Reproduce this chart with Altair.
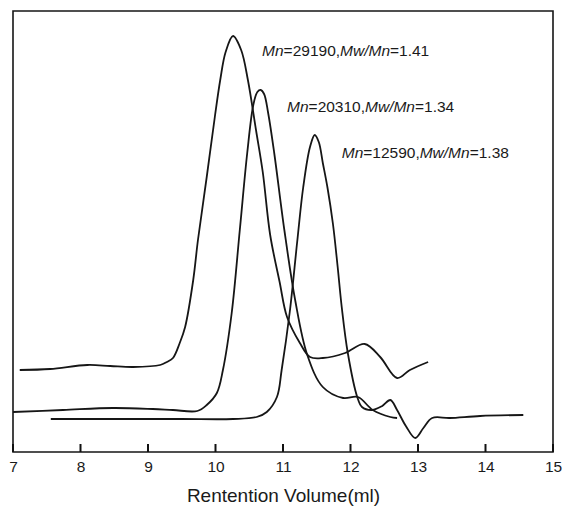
import altair as alt
import pandas as pd

# ---- data (retention volume in ml, detector signal in arbitrary units) ----
a_vol = [7.10, 7.55, 8.10, 8.44, 8.78, 9.18, 9.28, 9.37, 9.47, 9.55, 9.67, 9.74, 9.87, 9.99,
         10.07, 10.15, 10.26, 10.38, 10.48, 10.60, 10.70, 10.81, 10.95, 11.06, 11.25, 11.40,
         11.59, 11.92, 12.21, 12.44, 12.69, 12.88, 13.15]
a_sig = [82, 83, 87, 86, 85, 87, 90, 94, 109, 125, 172, 212, 275, 335,
         372, 400, 416, 402, 372, 322, 280, 217, 170, 135, 109, 95,
         94, 99, 108, 95, 74, 82, 90]

b_vol = [7.00, 7.74, 8.48, 9.07, 9.37, 9.73, 9.87, 10.02, 10.11, 10.24, 10.36, 10.47, 10.56,
         10.62, 10.67, 10.72, 10.78, 10.87, 11.02, 11.18, 11.36, 11.59, 11.89, 12.11, 12.33,
         12.59, 12.69]
b_sig = [40, 42, 44, 43, 42, 41, 47, 59, 82, 139, 222, 299, 347,
         360, 362, 358, 339, 299, 222, 152, 97, 65, 54, 55, 42,
         35, 34]

c_vol = [7.56, 8.50, 9.50, 10.26, 10.61, 10.76, 10.91, 10.98, 11.10, 11.21, 11.30, 11.40,
         11.47, 11.53, 11.59, 11.66, 11.74, 11.81, 11.87, 11.96, 12.10, 12.17, 12.32, 12.47,
         12.59, 12.69, 12.82, 12.96, 13.08, 13.21, 13.47, 13.92, 14.56]
c_sig = [33, 33, 33, 33, 35, 40, 55, 82, 140, 210, 265, 305,
         317, 310, 289, 264, 228, 185, 145, 99, 55, 45, 42, 46,
         52, 42, 26, 14, 24, 34, 34, 36, 37]

x_ticks = [7, 8, 9, 10, 11, 12, 13, 14, 15]

label_mn = ["29190", "20310", "12590"]
label_pdi = ["1.41", "1.34", "1.38"]
label_vol = [10.69, 11.06, 11.87]
label_sig = [396, 340, 294]

# ---- build tables ----
rows = []
for name, xs, ys in [("A", a_vol, a_sig), ("B", b_vol, b_sig), ("C", c_vol, c_sig)]:
    for x, y in zip(xs, ys):
        rows.append({"series": name, "vol": x, "sig": y})
df = pd.DataFrame(rows)

W, H = 540, 441
X0, X1 = 7, 15
px_per_unit = W / (X1 - X0)
FS = 15.5
FONT = "Liberation Sans"
TICK_LEN = 8
# Arial / Liberation Sans advance widths (per 1000 em); italic widths are identical
adv = {"M": 833, "n": 556, "=": 584, ",": 278, "w": 722, "/": 278, ".": 278}
for d in "0123456789":
    adv[d] = 556

def text_width(s):
    return sum(adv.get(ch, 556) for ch in s) * FS / 1000.0

seg_rows = []
for mn, pdi, xv, yv in zip(label_mn, label_pdi, label_vol, label_sig):
    segs = [("Mn", "italic"), ("=" + mn + ",", "normal"), ("Mw/Mn", "italic"), ("=" + pdi, "normal")]
    off = 0.0
    for s, st in segs:
        seg_rows.append({"vol": xv + off / px_per_unit, "sig": yv, "seg": s, "style": st})
        off += text_width(s)
seg_df = pd.DataFrame(seg_rows)
tick_df = pd.DataFrame({"vol": x_ticks})

xscale = alt.Scale(domain=[X0, X1], nice=False, zero=False)
yscale = alt.Scale(domain=[0, H], nice=False, zero=False)
x_enc = alt.X(
    "vol:Q",
    scale=xscale,
    axis=alt.Axis(
        values=x_ticks, format="d", tickSize=0, domain=False, grid=False, labelFlush=False,
        labelFont=FONT, labelFontSize=15.5, labelColor="#1a1a1a", labelPadding=7,
        title="Rentention Volume(ml)", titleFont=FONT, titleFontSize=19,
        titleFontWeight="normal", titleColor="#1a1a1a", titlePadding=12,
    ),
)
y_enc = alt.Y("sig:Q", scale=yscale, axis=None)

lines = alt.Chart(df).mark_line(
    interpolate="catmull-rom", color="#161616", strokeWidth=1.8
).encode(x=x_enc, y=y_enc, detail="series:N")

ticks = alt.Chart(tick_df).mark_rule(color="#111111", strokeWidth=2).encode(
    x=x_enc,
    y=alt.Y(datum=0, scale=yscale, axis=None),
    y2=alt.Y2(datum=TICK_LEN),
)

italic = alt.Chart(seg_df).transform_filter(alt.datum.style == "italic").mark_text(
    align="left", baseline="alphabetic", font=FONT, fontSize=FS, fontStyle="italic", color="#1a1a1a"
).encode(x=x_enc, y=y_enc, text="seg:N")

normal = alt.Chart(seg_df).transform_filter(alt.datum.style == "normal").mark_text(
    align="left", baseline="alphabetic", font=FONT, fontSize=FS, color="#1a1a1a"
).encode(x=x_enc, y=y_enc, text="seg:N")

chart = alt.layer(lines, italic, normal, ticks).properties(
    width=W, height=H,
    autosize=alt.AutoSizeParams(type="none"),
    padding={"left": 13, "top": 11, "right": 10, "bottom": 54},
    background="white",
).configure_view(stroke="#161616", strokeWidth=1.6)

chart.save("out.html", embed_options={"renderer": "svg", "actions": False})
